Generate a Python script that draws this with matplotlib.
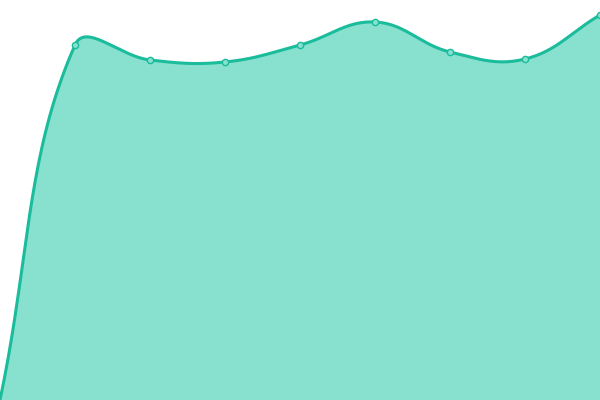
import numpy as np
import matplotlib.pyplot as plt

# Daten (0 = bottom, 400 = top)
x = np.arange(9)
y = np.array([0, 355, 340, 338, 355, 378, 348, 341, 385], dtype=float)

line_color = '#1abc9c'
fill_color = '#88e0cf'
tension = 0.4


def spline_curve(px, py, t=0.4, n=40):
    """ Chart.js style bezier through the points (pixel space) """
    pts = np.column_stack([px, py])
    m = len(pts)
    cps = []
    for i in range(m):
        prev = pts[max(i - 1, 0)]
        cur = pts[i]
        nxt = pts[min(i + 1, m - 1)]
        d01 = np.hypot(*(cur - prev))
        d12 = np.hypot(*(nxt - cur))
        s = d01 + d12
        fa = t * d01 / s if s else 0
        fb = t * d12 / s if s else 0
        cps.append((cur - fa * (nxt - prev), cur + fb * (nxt - prev)))
    out = []
    for i in range(m - 1):
        p0 = pts[i]
        p1 = cps[i][1]
        p2 = cps[i + 1][0]
        p3 = pts[i + 1]
        s = np.linspace(0, 1, n)[:, None]
        seg = (1 - s) ** 3 * p0 + 3 * (1 - s) ** 2 * s * p1 + 3 * (1 - s) * s ** 2 * p2 + s ** 3 * p3
        out.append(seg if i == 0 else seg[1:])
    return np.vstack(out)


fig = plt.figure(figsize=(6, 4), dpi=100)
ax = fig.add_axes([0, 0, 1, 1])

# work in pixel units so the curve shape matches the canvas
curve = spline_curve(x * 75.0, y, tension)
cx = curve[:, 0] / 75.0
cy = np.clip(curve[:, 1], 0, 400)

ax.fill_between(cx, cy, 0, color=fill_color, lw=0)
ax.plot(cx, cy, color=line_color, lw=2.2, solid_capstyle='round')
ax.plot(x[1:], y[1:], 'o', ms=4.5, mfc=fill_color, mec=line_color, mew=1.0, clip_on=True)

ax.set_xlim(0, 8)
ax.set_ylim(0, 400)
ax.axis('off')

plt.savefig('out.png', dpi=100)
